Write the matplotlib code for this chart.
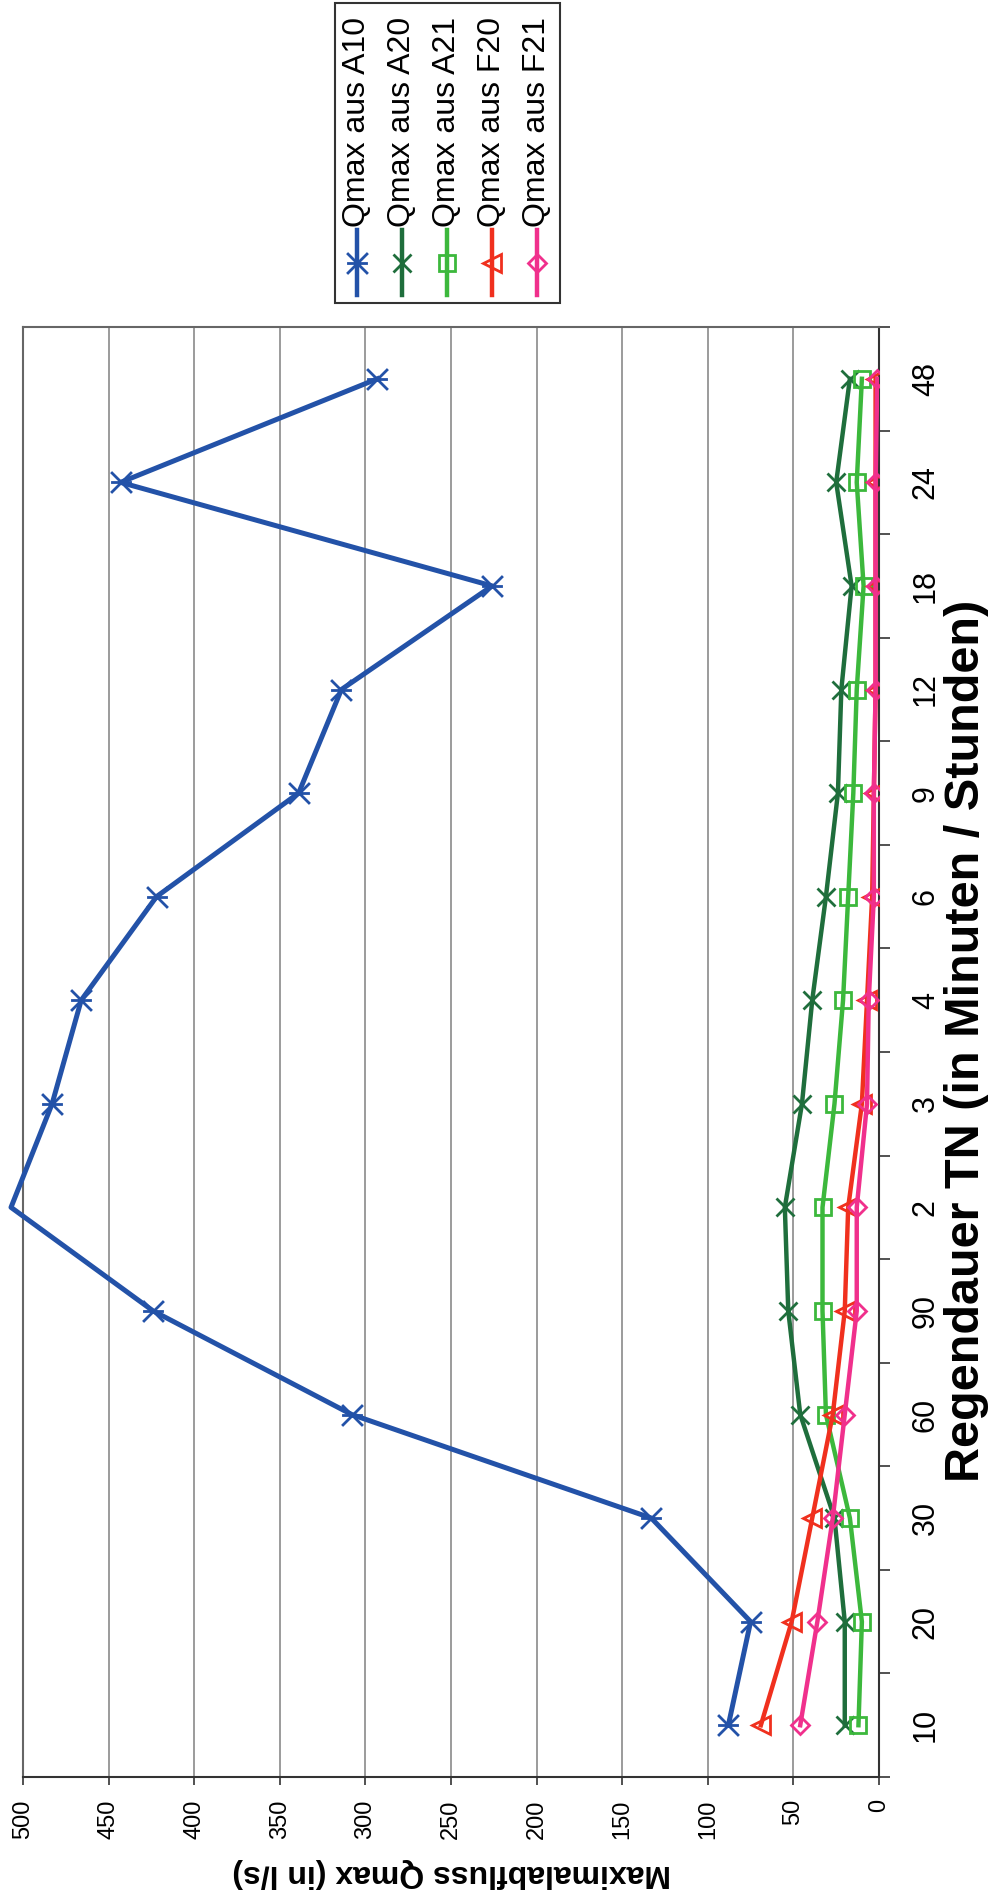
import matplotlib
matplotlib.use("Agg")
import matplotlib.pyplot as plt
import numpy as np
from matplotlib.path import Path
from matplotlib.patches import Rectangle
from matplotlib.lines import Line2D

plt.rcParams['font.family'] = ['Liberation Sans', 'DejaVu Sans']

# Regendauer (von unten nach oben im gedrehten Bild)
kategorien = ["10", "20", "30", "60", "90", "2", "3", "4", "6", "9", "12", "18", "24", "48"]

q_a10 = [88, 75, 133, 308, 424, 507, 483, 466, 422, 339, 314, 226, 443, 293]
q_a20 = [20, 20, 26, 46, 53, 55, 45, 39, 31, 24, 22, 16, 25, 17]
q_a21 = [12, 10, 17, 31, 33, 33, 26, 21, 18, 15, 13, 9, 13, 10]
q_f20 = [69, 51, 39, 27, 20, 18, 10, 7, 4, 3, 2, 2, 2, 2]
q_f21 = [46, 36, 27, 20, 13, 13, 7, 6, 3, 3, 2, 2, 2, 1]

namen = ["Qmax aus A10", "Qmax aus A20", "Qmax aus A21", "Qmax aus F20", "Qmax aus F21"]
farben = ["#2352a8", "#1f6e3c", "#3cb83c", "#f0301e", "#f0308c"]

# Stern-Marker (x + Strich, Bild ist gedreht)
stern = Path([(-1, -1), (1, 1), (-1, 1), (1, -1), (-1, 0), (1, 0)],
             [Path.MOVETO, Path.LINETO] * 3)
marker = [stern, "x", "s", "<", "D"]
msize = [15, 13, 12, 13, 9.5]

W, H = 997, 1898
fig = plt.figure(figsize=(W / 100, H / 100), dpi=100)
ax = fig.add_axes([23 / W, 1 - 1777 / H, 856 / W, 1450 / H])

pos = np.arange(len(kategorien))
serien = [q_a10, q_a20, q_a21, q_f20, q_f21]
for i, werte in enumerate(serien):
    if i == 0:
        # Punkt bei "2" liegt ueber 500 -> kein Marker
        mev = [k for k in range(len(werte)) if werte[k] <= 500]
        ax.plot(werte, pos, color=farben[i], lw=3.6, marker=marker[i], ms=msize[i],
                mfc='none', mec=farben[i], mew=2, markevery=mev, clip_on=False, zorder=3)
    else:
        ax.plot(werte, pos, color=farben[i], lw=3.2, marker=marker[i], ms=msize[i],
                mfc='none', mec=farben[i], mew=2, zorder=3 + i)

ax.set_xlim(500, 0)
ax.set_ylim(-0.5, len(kategorien) - 0.5)
ax.set_xticks(range(0, 501, 50))
ax.set_xticklabels([str(v) for v in range(0, 501, 50)], rotation=90, fontsize=17)
ax.tick_params(axis='x', length=6, width=1.2, pad=10, color='#333333')

ax.yaxis.tick_right()
ax.set_yticks(pos)
ax.set_yticklabels(kategorien, rotation=90, va='center', ha='left', fontsize=22)
ax.set_yticks(np.arange(-0.5, len(kategorien), 1), minor=True)
ax.tick_params(axis='y', which='major', length=0, pad=23)
ax.tick_params(axis='y', which='minor', length=8, width=1.2, color='#333333',
               right=True, left=False)

ax.grid(axis='x', color='#8a8a8a', lw=1.2)
ax.set_axisbelow(True)
for s in ax.spines.values():
    s.set_color('#666666')
    s.set_linewidth(1.5)
ax.spines['bottom'].set_color('#333333')
ax.spines['right'].set_color('#333333')

fig.text(452 / W, 1 - 1873 / H, "Maximalabfluss Qmax (in l/s)", rotation=180,
         fontsize=23, fontweight='bold', ha='center', va='center')
fig.text(966 / W, 1 - 1041 / H, "Regendauer TN (in Minuten / Stunden)", rotation=90,
         fontsize=35, fontweight='bold', ha='center', va='center')

# Legende von Hand (gedreht)
fig.add_artist(Rectangle((335 / W, 1 - 303 / H), 225 / W, 300 / H, transform=fig.transFigure,
                         fill=False, ec='#333333', lw=1.5))
for i, name in enumerate(namen):
    x = (357 + 45 * i) / W
    fig.add_artist(Line2D([x, x], [1 - 230 / H, 1 - 295 / H], transform=fig.transFigure,
                          color=farben[i], lw=3.2))
    fig.add_artist(Line2D([x], [1 - 263 / H], transform=fig.transFigure, marker=marker[i],
                          ms=msize[i], mfc='none', mec=farben[i], mew=2, lw=0))
    fig.text(x, 1 - 227 / H, name, rotation=90, fontsize=23, ha='center', va='bottom')

fig.savefig("out.png", dpi=100)
